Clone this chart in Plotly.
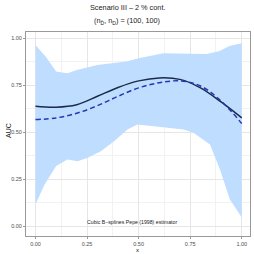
import plotly.graph_objects as go

# Estimated curves
x_curve = [0.0, 0.1, 0.2, 0.3, 0.4, 0.5, 0.6, 0.7, 0.8, 0.9, 1.0]
auc_true = [0.637, 0.632, 0.645, 0.69, 0.737, 0.772, 0.788, 0.78, 0.735, 0.66, 0.575]
auc_est = [0.566, 0.575, 0.6, 0.64, 0.69, 0.735, 0.762, 0.772, 0.745, 0.665, 0.545]

# Band
x_upper = [0.0, 0.05, 0.1, 0.155, 0.2, 0.3, 0.44, 0.5, 0.62, 0.73, 0.83, 0.89, 0.94, 1.0]
band_upper = [0.963, 0.9, 0.822, 0.813, 0.83, 0.857, 0.875, 0.892, 0.919, 0.915, 0.915, 0.93, 0.958, 0.972]
x_lower = [0.0, 0.045, 0.1, 0.155, 0.205, 0.253, 0.317, 0.381, 0.446, 0.494, 0.574, 0.654,
           0.718, 0.766, 0.846, 0.894, 0.942, 1.0]
band_lower = [0.116, 0.222, 0.319, 0.354, 0.345, 0.363, 0.398, 0.451, 0.513, 0.540, 0.531, 0.522,
              0.513, 0.496, 0.434, 0.302, 0.143, 0.046]

tick_vals = [0, 0.25, 0.5, 0.75, 1.0]
tick_text = ["0.00", "0.25", "0.50", "0.75", "1.00"]

FONT = "Liberation Sans"

H = 254; W = 254; T = 32; B = 18; L = 26; R = 4
ph = H - T - B; pw = W - L - R
def py(pix):
    return (H - B - pix) / ph
def px(pix):
    return (pix - L) / pw

fig = go.Figure()
fig.add_trace(go.Scatter(
    x=x_upper + x_lower[::-1], y=band_upper + band_lower[::-1],
    fill="toself", fillcolor="rgb(191,222,255)", line=dict(width=0),
    mode="lines", hoverinfo="skip", showlegend=False))
fig.add_trace(go.Scatter(x=x_curve, y=auc_true, mode="lines",
                         line=dict(color="#1c2a4a", width=1.5, shape="spline"),
                         showlegend=False))
fig.add_trace(go.Scatter(x=x_curve, y=auc_est, mode="lines",
                         line=dict(color="#2438b4", width=1.5, dash="5px,3px", shape="spline"),
                         showlegend=False))

axis_common = dict(
    tickvals=tick_vals, ticktext=tick_text, automargin=False,
    showgrid=True, gridcolor="#e6e6e6", gridwidth=0.6,
    minor=dict(tickvals=[0.125, 0.375, 0.625, 0.875], showgrid=True,
               gridcolor="#f2f2f2", gridwidth=0.4),
    ticks="outside", ticklen=2, tickcolor="#999999", tickwidth=0.8,
    tickfont=dict(family=FONT, size=5.5, color="#4d4d4d"),
    showline=True, mirror=True, linecolor="#999999", linewidth=1,
    zeroline=False,
)

title_font = dict(family=FONT, size=7.3, color="#1a1a1a")
fig.update_layout(
    width=W, height=H,
    margin=dict(l=L, r=R, t=T, b=B),
    paper_bgcolor="white", plot_bgcolor="white",
    xaxis=dict(range=[-0.046, 1.04], **axis_common),
    yaxis=dict(range=[-0.053, 1.032], **axis_common),
    annotations=[
        dict(text="Scenario III \u2013 2 % cont.", x=px(127), y=py(8), yanchor="middle",
             xref="paper", yref="paper", showarrow=False, font=title_font),
        dict(text="(n<sub>D\u0304</sub>, n<sub>D</sub>) = (100, 100)", x=px(127), y=py(21),
             yanchor="middle", xref="paper", yref="paper", showarrow=False, font=title_font),
        dict(text="Cubic B\u2212splines Pepe (1998) estimator", x=px(179), y=py(222),
             yanchor="middle", xref="paper", yref="paper", showarrow=False,
             font=dict(family=FONT, size=5.2, color="#1a1a1a")),
        dict(text="AUC", x=px(8), y=py(131), xanchor="center", yanchor="middle",
             xref="paper", yref="paper", showarrow=False, textangle=-90,
             font=dict(family=FONT, size=7, color="#1a1a1a")),
        dict(text="x", x=px(138), y=py(249.5), yanchor="middle", xref="paper", yref="paper",
             showarrow=False, font=dict(family=FONT, size=6.2, color="#1a1a1a")),
    ],
)

fig.write_html("out.html", config={"displayModeBar": False},
               post_script="document.body.style.margin='0px';")
